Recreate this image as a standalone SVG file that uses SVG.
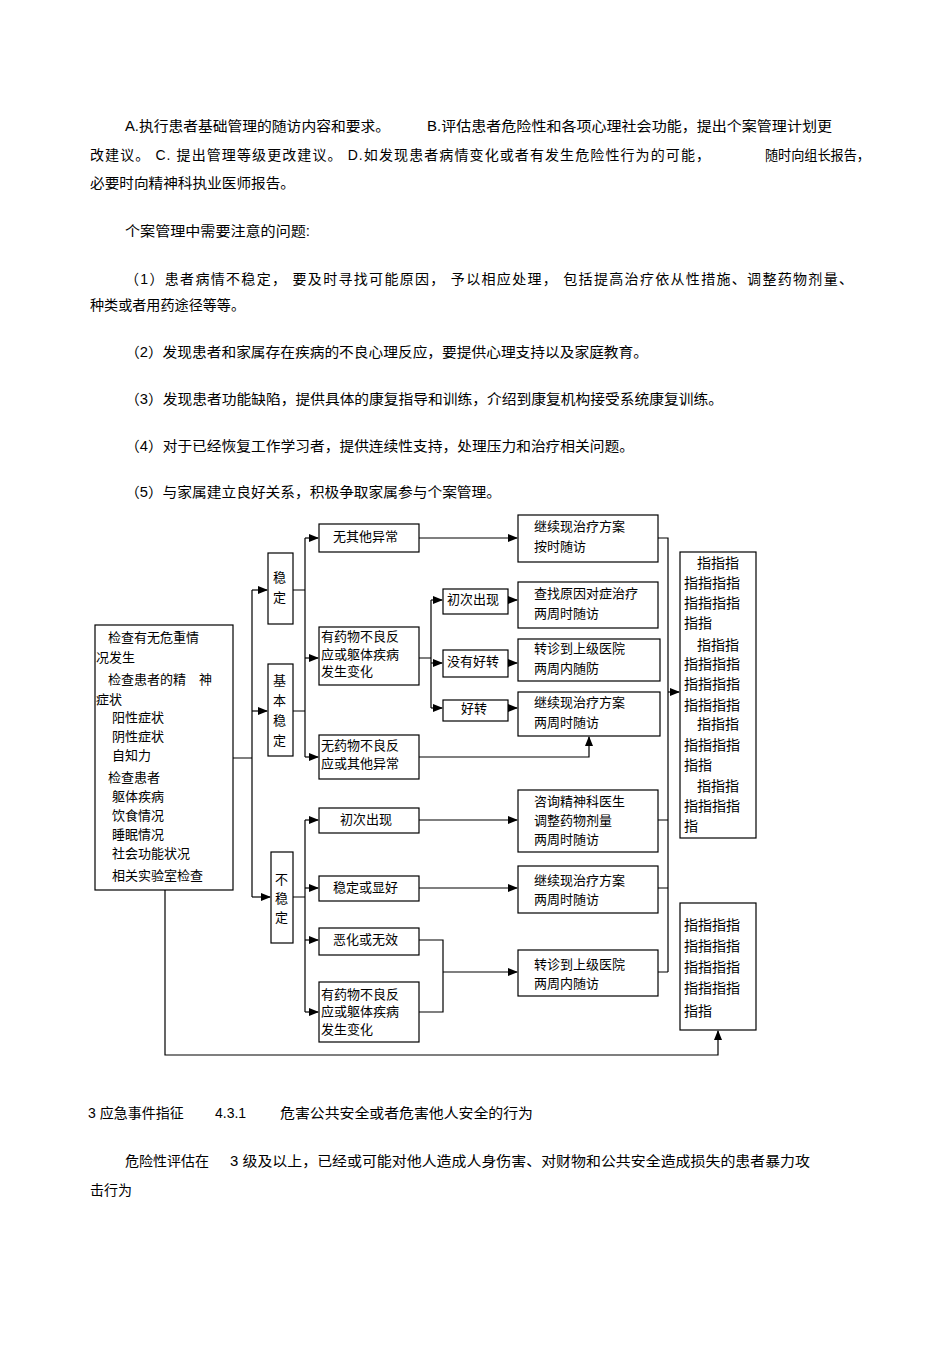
<svg xmlns="http://www.w3.org/2000/svg" width="950" height="1345" viewBox="0 0 950 1345">
<style>
text{font-family:"Liberation Sans","Noto Sans CJK SC",sans-serif;fill:#000}
.b{font-size:14px}
.d{font-size:13px}
rect{fill:#fff;stroke:#000;stroke-width:1.2}
.c path{fill:none;stroke:#000;stroke-width:1.2}
</style>
<defs><marker id="a" markerWidth="10" markerHeight="8" refX="9" refY="4" orient="auto" markerUnits="userSpaceOnUse"><path d="M0,0L10,4L0,8z" fill="#000"/></marker></defs>
<rect width="950" height="1345" style="fill:#fff;stroke:none"/>
<g class="b">
<text x="125" y="131" textLength="265" lengthAdjust="spacingAndGlyphs">A.执行患者基础管理的随访内容和要求。</text>
<text x="427" y="131" textLength="405" lengthAdjust="spacingAndGlyphs">B.评估患者危险性和各项心理社会功能，提出个案管理计划更</text>
<text x="90" y="160" textLength="620" lengthAdjust="spacing">改建议。 C.  提出管理等级更改建议。    D.如发现患者病情变化或者有发生危险性行为的可能，</text>
<text x="765" y="160" textLength="105" lengthAdjust="spacingAndGlyphs">随时向组长报告，</text>
<text x="90" y="188" textLength="205" lengthAdjust="spacingAndGlyphs">必要时向精神科执业医师报告。</text>
<text x="125" y="236" textLength="185" lengthAdjust="spacingAndGlyphs">个案管理中需要注意的问题:</text>
<text x="125" y="284" textLength="728" lengthAdjust="spacing">（1）患者病情不稳定，  要及时寻找可能原因，   予以相应处理，   包括提高治疗依从性措施、调整药物剂量、</text>
<text x="90" y="310" textLength="155" lengthAdjust="spacingAndGlyphs">种类或者用药途径等等。</text>
<text x="125" y="357" textLength="523" lengthAdjust="spacingAndGlyphs">（2）发现患者和家属存在疾病的不良心理反应，要提供心理支持以及家庭教育。</text>
<text x="125" y="404" textLength="598" lengthAdjust="spacingAndGlyphs">（3）发现患者功能缺陷，提供具体的康复指导和训练，介绍到康复机构接受系统康复训练。</text>
<text x="125" y="451" textLength="509" lengthAdjust="spacingAndGlyphs">（4）对于已经恢复工作学习者，提供连续性支持，处理压力和治疗相关问题。</text>
<text x="125" y="497" textLength="376" lengthAdjust="spacingAndGlyphs">（5）与家属建立良好关系，积极争取家属参与个案管理。</text>
<text x="88" y="1118">3 应急事件指征</text>
<text x="215" y="1118">4.3.1</text>
<text x="280" y="1118" textLength="253" lengthAdjust="spacingAndGlyphs">危害公共安全或者危害他人安全的行为</text>
<text x="125" y="1166">危险性评估在</text>
<text x="230" y="1166" textLength="580" lengthAdjust="spacingAndGlyphs">3 级及以上，已经或可能对他人造成人身伤害、对财物和公共安全造成损失的患者暴力攻</text>
<text x="90" y="1195">击行为</text>
</g>
<g class="c">
<path d="M233,758H252M252,590V897"/>
<path d="M252,590H267" marker-end="url(#a)"/>
<path d="M252,711H267" marker-end="url(#a)"/>
<path d="M252,897H270" marker-end="url(#a)"/>
<path d="M293,590H305M293,711H305M305,538V757"/>
<path d="M305,538H318" marker-end="url(#a)"/>
<path d="M305,658H318" marker-end="url(#a)"/>
<path d="M305,757H318" marker-end="url(#a)"/>
<path d="M419,538H517" marker-end="url(#a)"/>
<path d="M419,658H431M431,600V708"/>
<path d="M431,600H442" marker-end="url(#a)"/>
<path d="M431,663H442" marker-end="url(#a)"/>
<path d="M431,708H442" marker-end="url(#a)"/>
<path d="M508,600H517" marker-end="url(#a)"/>
<path d="M508,663H517" marker-end="url(#a)"/>
<path d="M508,708H517" marker-end="url(#a)"/>
<path d="M419,757H589V737" marker-end="url(#a)"/>
<path d="M293,897H305M305,820V1012"/>
<path d="M305,820H318" marker-end="url(#a)"/>
<path d="M305,888H318" marker-end="url(#a)"/>
<path d="M305,940H318" marker-end="url(#a)"/>
<path d="M305,1012H318" marker-end="url(#a)"/>
<path d="M419,820H517" marker-end="url(#a)"/>
<path d="M419,888H517" marker-end="url(#a)"/>
<path d="M419,940H443V1012H419M443,972H517" marker-end="url(#a)"/>
<path d="M658,538H668V972M658,820H668M658,888H668M658,972H668"/>
<path d="M668,692H679" marker-end="url(#a)"/>
<path d="M165,890V1055H718V1031" marker-end="url(#a)"/>
</g>
<g id="n0" class="d"><rect x="95" y="625" width="138" height="265"/>
<text x="108" y="642">检查有无危重情</text><text x="96" y="662">况发生</text><text x="108" y="684">检查患者的精　神</text><text x="96" y="704">症状</text><text x="112" y="722">阳性症状</text><text x="112" y="741">阴性症状</text><text x="112" y="760">自知力</text><text x="108" y="782">检查患者</text><text x="112" y="801">躯体疾病</text><text x="112" y="820">饮食情况</text><text x="112" y="839">睡眠情况</text><text x="112" y="858">社会功能状况</text><text x="112" y="880">相关实验室检查</text></g>
<g id="n1" class="d"><rect x="268" y="553" width="25" height="71"/><text x="273" y="582">稳</text><text x="273" y="602">定</text></g>
<g id="n2" class="d"><rect x="268" y="664" width="25" height="92"/><text x="273" y="685">基</text><text x="273" y="705">本</text><text x="273" y="725">稳</text><text x="273" y="745">定</text></g>
<g id="n3" class="d"><rect x="271" y="852" width="22" height="91"/><text x="275" y="884">不</text><text x="275" y="903">稳</text><text x="275" y="922">定</text></g>
<g id="n4" class="d"><rect x="319" y="524" width="100" height="28"/><text x="333" y="541">无其他异常</text></g>
<g id="n5" class="d"><rect x="319" y="627" width="100" height="58"/><text x="321" y="641">有药物不良反</text><text x="321" y="659">应或躯体疾病</text><text x="321" y="676">发生变化</text></g>
<g id="n6" class="d"><rect x="319" y="735" width="100" height="44"/><text x="321" y="750">无药物不良反</text><text x="321" y="768">应或其他异常</text></g>
<g id="n7" class="d"><rect x="443" y="589" width="65" height="25"/><text x="447" y="604">初次出现</text></g>
<g id="n8" class="d"><rect x="443" y="650" width="65" height="27"/><text x="447" y="666">没有好转</text></g>
<g id="n9" class="d"><rect x="443" y="700" width="65" height="21"/><text x="461" y="713">好转</text></g>
<g id="n10" class="d"><rect x="518" y="515" width="140" height="47"/><text x="534" y="531">继续现治疗方案</text><text x="534" y="551">按时随访</text></g>
<g id="n11" class="d"><rect x="518" y="582" width="140" height="46"/><text x="534" y="598">查找原因对症治疗</text><text x="534" y="618">两周时随访</text></g>
<g id="n12" class="d"><rect x="518" y="639" width="142" height="42"/><text x="534" y="653">转诊到上级医院</text><text x="534" y="673">两周内随防</text></g>
<g id="n13" class="d"><rect x="518" y="692" width="142" height="44"/><text x="534" y="707">继续现治疗方案</text><text x="534" y="727">两周时随访</text></g>
<g id="n14" class="d"><rect x="319" y="808" width="100" height="25"/><text x="340" y="824">初次出现</text></g>
<g id="n15" class="d"><rect x="319" y="876" width="100" height="25"/><text x="333" y="892">稳定或显好</text></g>
<g id="n16" class="d"><rect x="319" y="928" width="100" height="27"/><text x="333" y="944">恶化或无效</text></g>
<g id="n17" class="d"><rect x="319" y="982" width="100" height="60"/><text x="321" y="999">有药物不良反</text><text x="321" y="1016">应或躯体疾病</text><text x="321" y="1034">发生变化</text></g>
<g id="n18" class="d"><rect x="518" y="790" width="140" height="62"/><text x="534" y="806">咨询精神科医生</text><text x="534" y="825">调整药物剂量</text><text x="534" y="844">两周时随访</text></g>
<g id="n19" class="d"><rect x="518" y="866" width="140" height="47"/><text x="534" y="885">继续现治疗方案</text><text x="534" y="904">两周时随访</text></g>
<g id="n20" class="d"><rect x="518" y="950" width="140" height="46"/><text x="534" y="969">转诊到上级医院</text><text x="534" y="988">两周内随访</text></g>
<g id="n21" class="b"><rect x="680" y="552" width="76" height="286"/>
<text x="697" y="568">指指指</text><text x="684" y="588">指指指指</text><text x="684" y="608">指指指指</text><text x="684" y="628">指指</text><text x="697" y="650">指指指</text><text x="684" y="669">指指指指</text><text x="684" y="689">指指指指</text><text x="684" y="710">指指指指</text><text x="697" y="729">指指指</text><text x="684" y="750">指指指指</text><text x="684" y="770">指指</text><text x="697" y="791">指指指</text><text x="684" y="811">指指指指</text><text x="684" y="831">指</text></g>
<g id="n22" class="b"><rect x="680" y="903" width="76" height="127"/>
<text x="684" y="930">指指指指</text><text x="684" y="951">指指指指</text><text x="684" y="972">指指指指</text><text x="684" y="993">指指指指</text><text x="684" y="1016">指指</text></g>
</svg>
